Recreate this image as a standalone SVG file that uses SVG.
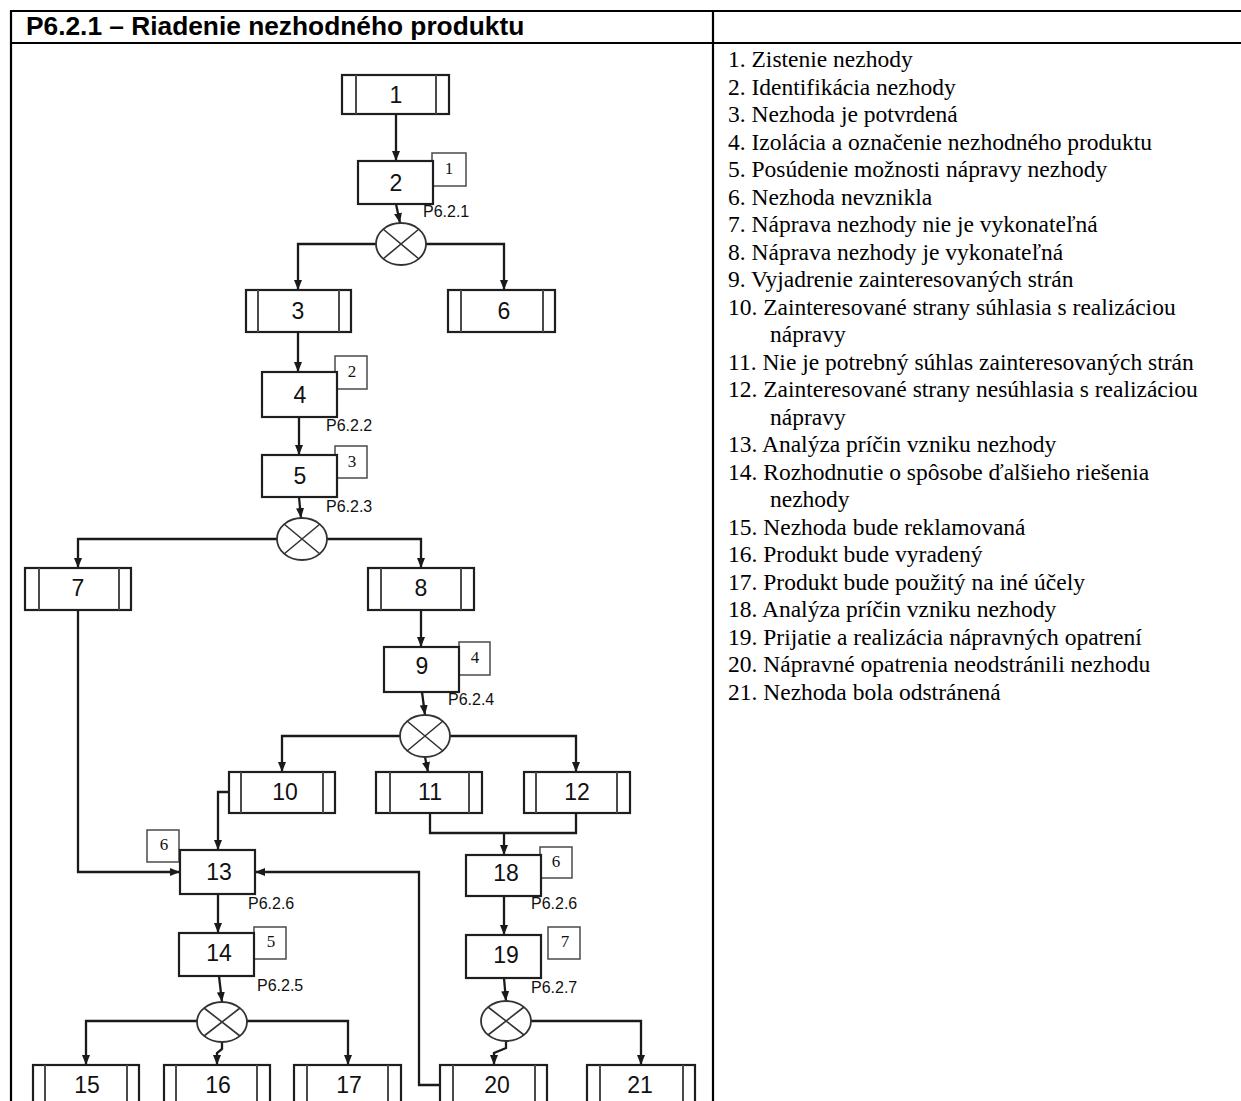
<svg xmlns="http://www.w3.org/2000/svg" width="1241" height="1101" viewBox="0 0 1241 1101">
<defs>
<marker id="arr" markerUnits="userSpaceOnUse" markerWidth="10" markerHeight="8" refX="10" refY="4" orient="auto">
<path d="M0,0 L10,4 L0,8 z" fill="#1a1a1a"/>
</marker>
<style>
.frame{stroke:#000;stroke-width:2.2;fill:none}
.box{fill:#fff;stroke:#1e1e1e;stroke-width:2.2}
.bar{stroke:#4a4a4a;stroke-width:2}
.ref{fill:#fff;stroke:#555;stroke-width:1.6}
.num{font-family:"Liberation Sans",Arial,sans-serif;font-size:23px;fill:#111;text-anchor:middle}
.rnum{font-family:"Liberation Serif","Times New Roman",serif;font-size:17px;fill:#111;text-anchor:middle}
.plab{font-family:"Liberation Sans",Arial,sans-serif;font-size:16px;fill:#111}
.list{font-family:"Liberation Serif","Times New Roman",serif;font-size:23.5px;fill:#000}
.title{font-family:"Liberation Sans",Arial,sans-serif;font-size:26.3px;font-weight:bold;fill:#000}
.con{fill:none;stroke:#1a1a1a;stroke-width:2.3}
.gate{fill:#fff;stroke:#333;stroke-width:1.8}
.x{stroke:#333;stroke-width:1.6}
</style>
</defs>
<rect width="1241" height="1101" fill="#fff"/>
<g id="table">
<line class="frame" x1="10" y1="11" x2="1241" y2="11"/>
<line class="frame" x1="10" y1="43" x2="1241" y2="43"/>
<line class="frame" x1="11" y1="10" x2="11" y2="1101"/>
<line class="frame" x1="713" y1="10" x2="713" y2="1101"/>
<text class="title" x="26" y="35">P6.2.1 – Riadenie nezhodného produktu</text>
</g>
<g id="legend" class="list">
<text x="728" y="67">1. Zistenie nezhody</text>
<text x="728" y="94.5">2. Identifikácia nezhody</text>
<text x="728" y="122">3. Nezhoda je potvrdená</text>
<text x="728" y="149.5">4. Izolácia a označenie nezhodného produktu</text>
<text x="728" y="177">5. Posúdenie možnosti nápravy nezhody</text>
<text x="728" y="204.5">6. Nezhoda nevznikla</text>
<text x="728" y="232">7. Náprava nezhody nie je vykonateľná</text>
<text x="728" y="259.5">8. Náprava nezhody je vykonateľná</text>
<text x="728" y="287">9. Vyjadrenie zainteresovaných strán</text>
<text x="728" y="314.5">10. Zainteresované strany súhlasia s realizáciou</text>
<text x="770" y="342">nápravy</text>
<text x="728" y="369.5">11. Nie je potrebný súhlas zainteresovaných strán</text>
<text x="728" y="397">12. Zainteresované strany nesúhlasia s realizáciou</text>
<text x="770" y="424.5">nápravy</text>
<text x="728" y="452">13. Analýza príčin vzniku nezhody</text>
<text x="728" y="479.5">14. Rozhodnutie o spôsobe ďalšieho riešenia</text>
<text x="770" y="507">nezhody</text>
<text x="728" y="534.5">15. Nezhoda bude reklamovaná</text>
<text x="728" y="562">16. Produkt bude vyradený</text>
<text x="728" y="589.5">17. Produkt bude použitý na iné účely</text>
<text x="728" y="617">18. Analýza príčin vzniku nezhody</text>
<text x="728" y="644.5">19. Prijatie a realizácia nápravných opatrení</text>
<text x="728" y="672">20. Nápravné opatrenia neodstránili nezhodu</text>
<text x="728" y="699.5">21. Nezhoda bola odstránená</text>
</g>
<g id="connectors" class="con">
<path d="M396,114 V161" marker-end="url(#arr)"/>
<path d="M396,204 L400,223" marker-end="url(#arr)"/>
<path d="M376,244 H298 V290" marker-end="url(#arr)"/>
<path d="M426,244 H504 V290" marker-end="url(#arr)"/>
<path d="M298,332 V372" marker-end="url(#arr)"/>
<path d="M299,417 V455" marker-end="url(#arr)"/>
<path d="M299,497 L301,518" marker-end="url(#arr)"/>
<path d="M277,539 H78 V568" marker-end="url(#arr)"/>
<path d="M327,539 H421 V568" marker-end="url(#arr)"/>
<path d="M421,610 V647" marker-end="url(#arr)"/>
<path d="M422,692 L425,715" marker-end="url(#arr)"/>
<path d="M400,736 H282 V772" marker-end="url(#arr)"/>
<path d="M425,757 L428,772" marker-end="url(#arr)"/>
<path d="M450,736 H576 V772" marker-end="url(#arr)"/>
<path d="M229,792 H218 V850" marker-end="url(#arr)"/>
<path d="M78,610 V872 H180" marker-end="url(#arr)"/>
<path d="M430,813 V833 H576 V813"/>
<path d="M504,833 V855" marker-end="url(#arr)"/>
<path d="M504,896 V935" marker-end="url(#arr)"/>
<path d="M504,978 L506,1001" marker-end="url(#arr)"/>
<path d="M531,1021 H641 V1065" marker-end="url(#arr)"/>
<path d="M506,1041 V1048 L494,1053 V1065" marker-end="url(#arr)"/>
<path d="M440,1085 H419 V872 H255" marker-end="url(#arr)"/>
<path d="M218,894 V933" marker-end="url(#arr)"/>
<path d="M219,976 L222,1002" marker-end="url(#arr)"/>
<path d="M197,1021 H86 V1065" marker-end="url(#arr)"/>
<path d="M222,1042 V1049 L217,1053 V1065" marker-end="url(#arr)"/>
<path d="M247,1021 H348 V1065" marker-end="url(#arr)"/>
</g>
<g id="gateA"><ellipse class="gate" cx="401" cy="244" rx="25" ry="21"/><path class="x" d="M383,229 L419,259 M419,229 L383,259"/></g>
<g id="gateB"><ellipse class="gate" cx="302" cy="539" rx="25" ry="21"/><path class="x" d="M284,524 L320,554 M320,524 L284,554"/></g>
<g id="gateC"><ellipse class="gate" cx="425" cy="736" rx="25" ry="21"/><path class="x" d="M407,721 L443,751 M443,721 L407,751"/></g>
<g id="gateD"><ellipse class="gate" cx="506" cy="1021" rx="25" ry="20"/><path class="x" d="M488,1007 L524,1035 M524,1007 L488,1035"/></g>
<g id="gateE"><ellipse class="gate" cx="222" cy="1022" rx="25" ry="20"/><path class="x" d="M204,1008 L240,1036 M240,1008 L204,1036"/></g>
<g id="n1"><rect class="box" x="342" y="75" width="107" height="39"/><line class="bar" x1="356" y1="75" x2="356" y2="114"/><line class="bar" x1="436" y1="75" x2="436" y2="114"/><text class="num" x="396" y="103">1</text></g>
<g id="n2"><rect class="ref" x="432" y="153" width="34" height="33"/><text class="rnum" x="449" y="174">1</text><rect class="box" x="358" y="161" width="75" height="43"/><text class="num" x="396" y="191">2</text><text class="plab" x="423" y="217">P6.2.1</text></g>
<g id="n3"><rect class="box" x="246" y="290" width="105" height="42"/><line class="bar" x1="258" y1="290" x2="258" y2="332"/><line class="bar" x1="339" y1="290" x2="339" y2="332"/><text class="num" x="298" y="319">3</text></g>
<g id="n6"><rect class="box" x="448" y="290" width="107" height="42"/><line class="bar" x1="461" y1="290" x2="461" y2="332"/><line class="bar" x1="543" y1="290" x2="543" y2="332"/><text class="num" x="504" y="319">6</text></g>
<g id="n4"><rect class="ref" x="335" y="356" width="32" height="33"/><text class="rnum" x="352" y="377">2</text><rect class="box" x="262" y="372" width="75" height="45"/><text class="num" x="300" y="403">4</text><text class="plab" x="326" y="431">P6.2.2</text></g>
<g id="n5"><rect class="ref" x="335" y="446" width="32" height="32"/><text class="rnum" x="352" y="467">3</text><rect class="box" x="262" y="455" width="75" height="42"/><text class="num" x="300" y="484">5</text><text class="plab" x="326" y="512">P6.2.3</text></g>
<g id="n7"><rect class="box" x="25" y="568" width="106" height="42"/><line class="bar" x1="39" y1="568" x2="39" y2="610"/><line class="bar" x1="119" y1="568" x2="119" y2="610"/><text class="num" x="78" y="596">7</text></g>
<g id="n8"><rect class="box" x="368" y="568" width="106" height="42"/><line class="bar" x1="381" y1="568" x2="381" y2="610"/><line class="bar" x1="461" y1="568" x2="461" y2="610"/><text class="num" x="421" y="596">8</text></g>
<g id="n9"><rect class="ref" x="459" y="642" width="31" height="33"/><text class="rnum" x="475" y="663">4</text><rect class="box" x="384" y="647" width="75" height="45"/><text class="num" x="422" y="674">9</text><text class="plab" x="448" y="705">P6.2.4</text></g>
<g id="n10"><rect class="box" x="229" y="772" width="106" height="41"/><line class="bar" x1="241" y1="772" x2="241" y2="813"/><line class="bar" x1="323" y1="772" x2="323" y2="813"/><text class="num" x="285" y="800">10</text></g>
<g id="n11"><rect class="box" x="376" y="772" width="106" height="41"/><line class="bar" x1="390" y1="772" x2="390" y2="813"/><line class="bar" x1="469" y1="772" x2="469" y2="813"/><text class="num" x="430" y="800">11</text></g>
<g id="n12"><rect class="box" x="524" y="772" width="106" height="41"/><line class="bar" x1="536" y1="772" x2="536" y2="813"/><line class="bar" x1="617" y1="772" x2="617" y2="813"/><text class="num" x="577" y="800">12</text></g>
<g id="n13"><rect class="ref" x="147" y="830" width="32" height="32"/><text class="rnum" x="164" y="850">6</text><rect class="box" x="180" y="850" width="75" height="44"/><text class="num" x="219" y="880">13</text><text class="plab" x="248" y="909">P6.2.6</text></g>
<g id="n18"><rect class="ref" x="540" y="847" width="32" height="31"/><text class="rnum" x="556" y="867">6</text><rect class="box" x="466" y="855" width="75" height="41"/><text class="num" x="506" y="881">18</text><text class="plab" x="531" y="909">P6.2.6</text></g>
<g id="n14"><rect class="ref" x="254" y="927" width="32" height="32"/><text class="rnum" x="271" y="947">5</text><rect class="box" x="179" y="933" width="75" height="43"/><text class="num" x="219" y="961">14</text><text class="plab" x="257" y="991">P6.2.5</text></g>
<g id="n19"><rect class="ref" x="548" y="927" width="32" height="32"/><text class="rnum" x="565" y="947">7</text><rect class="box" x="466" y="935" width="75" height="43"/><text class="num" x="506" y="963">19</text><text class="plab" x="531" y="993">P6.2.7</text></g>
<g id="n15"><rect class="box" x="33" y="1065" width="106" height="44"/><line class="bar" x1="45" y1="1065" x2="45" y2="1109"/><line class="bar" x1="127" y1="1065" x2="127" y2="1109"/><text class="num" x="87" y="1093">15</text></g>
<g id="n16"><rect class="box" x="164" y="1065" width="106" height="44"/><line class="bar" x1="176" y1="1065" x2="176" y2="1109"/><line class="bar" x1="257" y1="1065" x2="257" y2="1109"/><text class="num" x="218" y="1093">16</text></g>
<g id="n17"><rect class="box" x="294" y="1065" width="107" height="44"/><line class="bar" x1="307" y1="1065" x2="307" y2="1109"/><line class="bar" x1="388" y1="1065" x2="388" y2="1109"/><text class="num" x="349" y="1093">17</text></g>
<g id="n20"><rect class="box" x="440" y="1065" width="107" height="44"/><line class="bar" x1="453" y1="1065" x2="453" y2="1109"/><line class="bar" x1="535" y1="1065" x2="535" y2="1109"/><text class="num" x="497" y="1093">20</text></g>
<g id="n21"><rect class="box" x="587" y="1065" width="108" height="44"/><line class="bar" x1="600" y1="1065" x2="600" y2="1109"/><line class="bar" x1="683" y1="1065" x2="683" y2="1109"/><text class="num" x="640" y="1093">21</text></g>
</svg>
